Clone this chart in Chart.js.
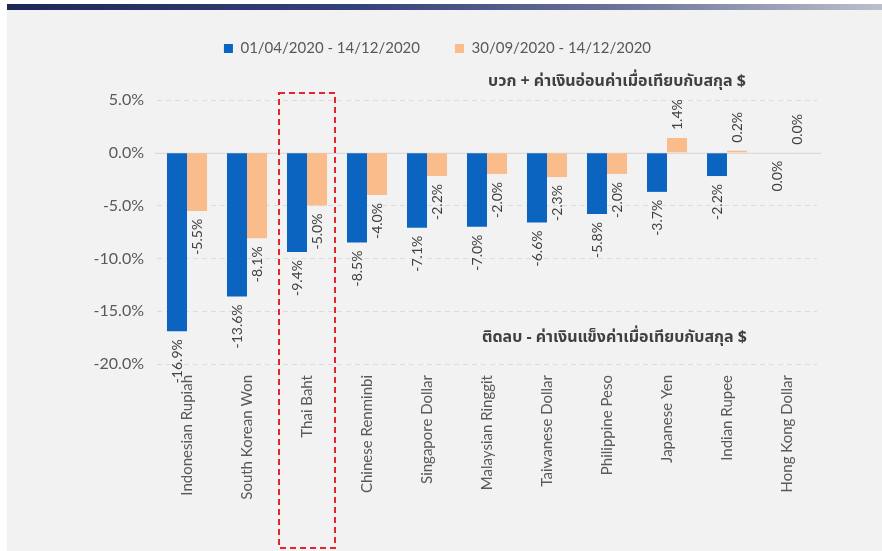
<!DOCTYPE html>
<html>
<head>
<meta charset="utf-8">
<script src="https://cdn.jsdelivr.net/npm/chart.js@4"></script>
<style>
  html, body { margin: 0; padding: 0; background: #fff; }
  #wrap { position: relative; width: 882px; height: 551px; overflow: hidden; }
  #panel { position: absolute; left: 7px; top: 4px; right: 0; bottom: 0; background: #f2f2f2; }
  #band { position: absolute; left: 7px; top: 4px; right: 0; height: 6px;
          background: linear-gradient(to right, #1c2857, #34427a 40%, #6a7399 70%, #bcbfcc); }
  canvas { position: absolute; left: 0; top: 0; }
</style>
</head>
<body>
<div id="wrap">
  <div id="panel"></div>
  <div id="band"></div>
  <canvas id="fxChart" width="882" height="551"></canvas>
</div>
<script>
// สกุลเงินเอเชียเทียบดอลลาร์ (%)
const currencies = ['Indonesian Rupiah', 'South Korean Won', 'Thai Baht', 'Chinese Renminbi',
  'Singapore Dollar', 'Malaysian Ringgit', 'Taiwanese Dollar', 'Philippine Peso',
  'Japanese Yen', 'Indian Rupee', 'Hong Kong Dollar'];
const sinceApr = [-16.9, -13.6, -9.4, -8.5, -7.1, -7.0, -6.6, -5.8, -3.7, -2.2, 0.0];
const sinceSep = [-5.5, -8.1, -5.0, -4.0, -2.2, -2.0, -2.3, -2.0, 1.4, 0.2, 0.0];
const seriesNames = ['01/04/2020 - 14/12/2020', '30/09/2020 - 14/12/2020'];
const yTicks = [5, 0, -5, -10, -15, -20];
const noteUp = 'บวก + ค่าเงินอ่อนค่าเมื่อเทียบกับสกุล $';
const noteDown = 'ติดลบ - ค่าเงินแข็งค่าเมื่อเทียบกับสกุล $';

const BLUE = '#0a64c0';
const ORANGE = '#f9bc8a';
const TEXT = '#595959';
const THAI = '"Noto Sans Thai", "Noto Sans Thai UI", Loma, Garuda, "Tlwg Typo", Tahoma, sans-serif';

// ตัวเลขบนแท่ง หมุนแนวตั้ง
const barLabels = {
  id: 'barLabels',
  afterDatasetsDraw(chart) {
    const ctx = chart.ctx;
    ctx.save();
    ctx.font = '14px Lato';
    ctx.fillStyle = '#404040';
    ctx.textBaseline = 'middle';
    chart.data.datasets.forEach((ds, i) => {
      chart.getDatasetMeta(i).data.forEach((bar, j) => {
        const v = ds.data[j];
        // zero values: first series labelled below, second above
        const down = v < 0 || (v === 0 && i === 0);
        ctx.save();
        ctx.translate(bar.x, down ? bar.y + 8 : bar.y - 8);
        ctx.rotate(-Math.PI / 2);
        ctx.textAlign = down ? 'right' : 'left';
        ctx.fillText(v.toFixed(1) + '%', 0, 0);
        ctx.restore();
      });
    });
    ctx.restore();
  }
};

// เส้นศูนย์, กรอบไทยบาท, ข้อความอธิบาย
const extras = {
  id: 'extras',
  beforeDatasetsDraw(chart) {
    const {ctx, chartArea, scales} = chart;
    const y0 = scales.y.getPixelForValue(0);
    ctx.save();
    ctx.strokeStyle = '#d4d4d4';
    ctx.lineWidth = 1;
    ctx.beginPath();
    ctx.moveTo(chartArea.left - 2, y0 + 0.5);
    ctx.lineTo(chartArea.right + 4, y0 + 0.5);
    ctx.stroke();
    ctx.restore();
  },
  afterDraw(chart) {
    const {ctx, chartArea, scales} = chart;
    const xt = scales.x.getPixelForValue(2);
    ctx.save();
    ctx.strokeStyle = '#e3242b';
    ctx.lineWidth = 2;
    ctx.setLineDash([6, 4]);
    ctx.strokeRect(xt - 28, chartArea.top - 7, 56, 455);
    ctx.setLineDash([]);

    ctx.fillStyle = '#404040';
    ctx.font = 'bold 16px ' + THAI;
    ctx.textAlign = 'right';
    ctx.textBaseline = 'middle';
    ctx.fillText(noteUp, chartArea.right - 71, chartArea.top - 17);
    ctx.fillText(noteDown, chartArea.right - 70, scales.y.getPixelForValue(-17.6));
    ctx.restore();
  }
};

new Chart(document.getElementById('fxChart'), {
  type: 'bar',
  data: {
    labels: currencies,
    datasets: [
      { label: seriesNames[0], data: sinceApr, backgroundColor: BLUE },
      { label: seriesNames[1], data: sinceSep, backgroundColor: ORANGE }
    ]
  },
  options: {
    responsive: false,
    animation: false,
    layout: { padding: { top: 6, left: 58, right: 65, bottom: 0 } },
    datasets: { bar: { categoryPercentage: 0.667, barPercentage: 1.0 } },
    plugins: {
      legend: {
        position: 'top',
        labels: {
          boxWidth: 9, boxHeight: 9, padding: 35,
          color: TEXT, font: { family: 'Lato', size: 15 }
        }
      },
      // blank title under the legend keeps room for the note line
      title: {
        display: true, text: ' ', position: 'top', weight: 500,
        font: { size: 10, lineHeight: 1 }, padding: { top: 0, bottom: 24 }
      },
      tooltip: { enabled: false }
    },
    scales: {
      x: {
        grid: { display: false },
        border: { display: false },
        ticks: {
          minRotation: 90, maxRotation: 90, padding: 3,
          color: TEXT, font: { family: 'Lato', size: 15 }
        },
        afterFit(s) { s.height = 187; }
      },
      y: {
        min: -20, max: 5,
        afterBuildTicks(s) { s.ticks = yTicks.map(v => ({ value: v })); },
        grid: {
          drawTicks: false,
          color: c => c.tick && c.tick.value === 0 ? 'rgba(0,0,0,0)' : '#dcdcdc'
        },
        border: { display: false, dash: [5, 4] },
        ticks: {
          padding: 13, color: TEXT, font: { family: 'Lato', size: 16 },
          callback: v => v.toFixed(1) + '%'
        },
        afterFit(s) { s.width = 99; }
      }
    }
  },
  plugins: [extras, barLabels]
});
</script>
</body>
</html>
